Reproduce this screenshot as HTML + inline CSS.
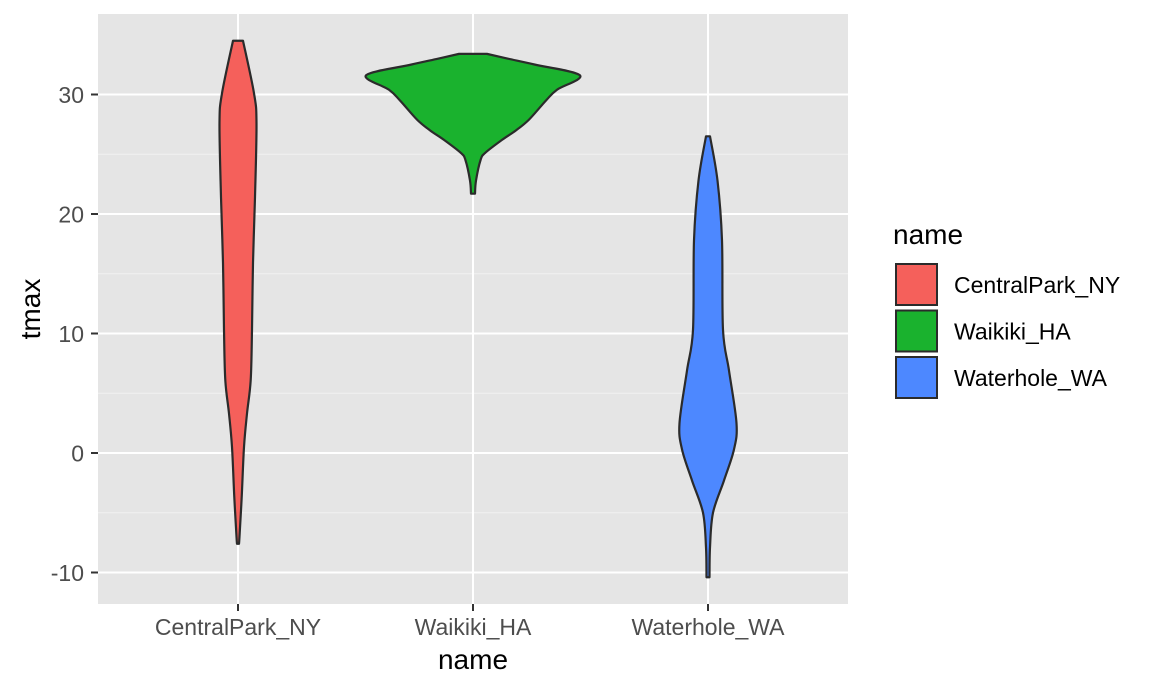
<!DOCTYPE html>
<html><head><meta charset="utf-8"><style>
body{margin:0;background:#fff;}
svg{display:block;font-family:"Liberation Sans",sans-serif;}
</style></head><body>
<svg id="chart" width="1152" height="691">
<rect x="98" y="14" width="750" height="590" fill="#e5e5e5"/>
<g id="grid"></g>
<g id="violins"></g>
<g id="axes"></g>
<text x="473" y="669" font-size="28" text-anchor="middle" fill="#000">name</text>
<text transform="translate(40,309) rotate(-90)" font-size="28" text-anchor="middle" fill="#000">tmax</text>
<g id="legend">
<text x="893" y="244" font-size="28" fill="#000">name</text>
</g>
</svg>
<script>
const categories=["CentralPark_NY","Waikiki_HA","Waterhole_WA"];
const fills=["#f5605b","#1ab22e","#4d88ff"];
const yTicks=[-10,0,10,20,30];
const yMinor=[-5,5,15,25];
// density profiles: [tmax value, half-width in px]
const centralPark=[[34.5,5],[30.1,16],[27.6,18.5],[21.4,17],[15.9,15],[10.3,14],[6.1,12.7],[3.3,9],[0.5,6],[-3.7,3.7],[-7.0,1.5],[-7.6,1]];
const waikiki=[[33.4,14],[33.0,35],[32.5,62],[31.6,107],[30.4,84],[29.5,73],[27.9,56],[27.0,43],[26.2,29],[25.1,12],[24.5,7.5],[22.8,3],[21.7,2]];
const waterhole=[[26.5,2],[22.8,9.5],[17.8,14],[10.3,15],[6.9,21],[2.5,28.5],[0.3,26],[-2.3,16],[-5.0,5],[-7.9,2],[-10.4,1.5]];
const profiles=[centralPark,waikiki,waterhole];
const NS="http://www.w3.org/2000/svg";
function y(v){return 453-v*11.95;}
function x(i){return 238+i*235;}
function mk(tag,attrs,parent){const e=document.createElementNS(NS,tag);for(const k in attrs)e.setAttribute(k,attrs[k]);parent.appendChild(e);return e;}
const grid=document.getElementById('grid');
yMinor.forEach(v=>{const l=mk('line',{x1:98,x2:848,y1:y(v),y2:y(v),stroke:'#f2f2f2','stroke-width':1},grid);

});
yTicks.forEach(v=>{const l=mk('line',{x1:98,x2:848,y1:y(v),y2:y(v),stroke:'#fff','stroke-width':2},grid);

});
categories.forEach((c,i)=>{const l=mk('line',{x1:x(i),x2:x(i),y1:14,y2:604,stroke:'#fff','stroke-width':2},grid);

});
const vg=document.getElementById('violins');
function smoothPath(pts){let d='M'+pts[0][0]+','+pts[0][1];
for(let i=0;i<pts.length-1;i++){const p0=pts[Math.max(0,i-1)],p1=pts[i],p2=pts[i+1],p3=pts[Math.min(pts.length-1,i+2)];
const c1=[p1[0]+(p2[0]-p0[0])/6,p1[1]+(p2[1]-p0[1])/6],c2=[p2[0]-(p3[0]-p1[0])/6,p2[1]-(p3[1]-p1[1])/6];
d+=' C'+c1+' '+c2+' '+p2;}return d;}
profiles.forEach((prof,i)=>{const cx=x(i);
const right=prof.map(p=>[cx+p[1],y(p[0])]);
const left=prof.slice().reverse().map(p=>[cx-p[1],y(p[0])]);
const d=smoothPath(right)+' L'+left[0]+smoothPath(left).slice(1).replace(/^[^C]*/,' ')+' Z';
const p=mk('path',{d:d,fill:fills[i],stroke:'#2b2b2b','stroke-width':2.2,'stroke-linejoin':'round'},vg);

});
const ax=document.getElementById('axes');
yTicks.forEach(v=>{const t=mk('line',{x1:91,x2:98,y1:y(v),y2:y(v),stroke:'#333','stroke-width':2},ax);


const tx=mk('text',{x:84,y:y(v)+8.5,'font-size':23,'text-anchor':'end',fill:'#4d4d4d'},ax);tx.textContent=v;

});
categories.forEach((c,i)=>{const t=mk('line',{x1:x(i),x2:x(i),y1:604,y2:611,stroke:'#333','stroke-width':2},ax);


const tx=mk('text',{x:x(i),y:635,'font-size':23,'text-anchor':'middle',fill:'#4d4d4d'},ax);tx.textContent=c;

});
const lg=document.getElementById('legend');
categories.forEach((c,i)=>{const yy=264+i*46.5;
const r=mk('rect',{x:896,y:yy,width:41,height:41,fill:fills[i],stroke:'#2b2b2b','stroke-width':2},lg);


const tx=mk('text',{x:954,y:yy+29,'font-size':23,fill:'#000'},lg);tx.textContent=c;

});
</script>
</body></html>
